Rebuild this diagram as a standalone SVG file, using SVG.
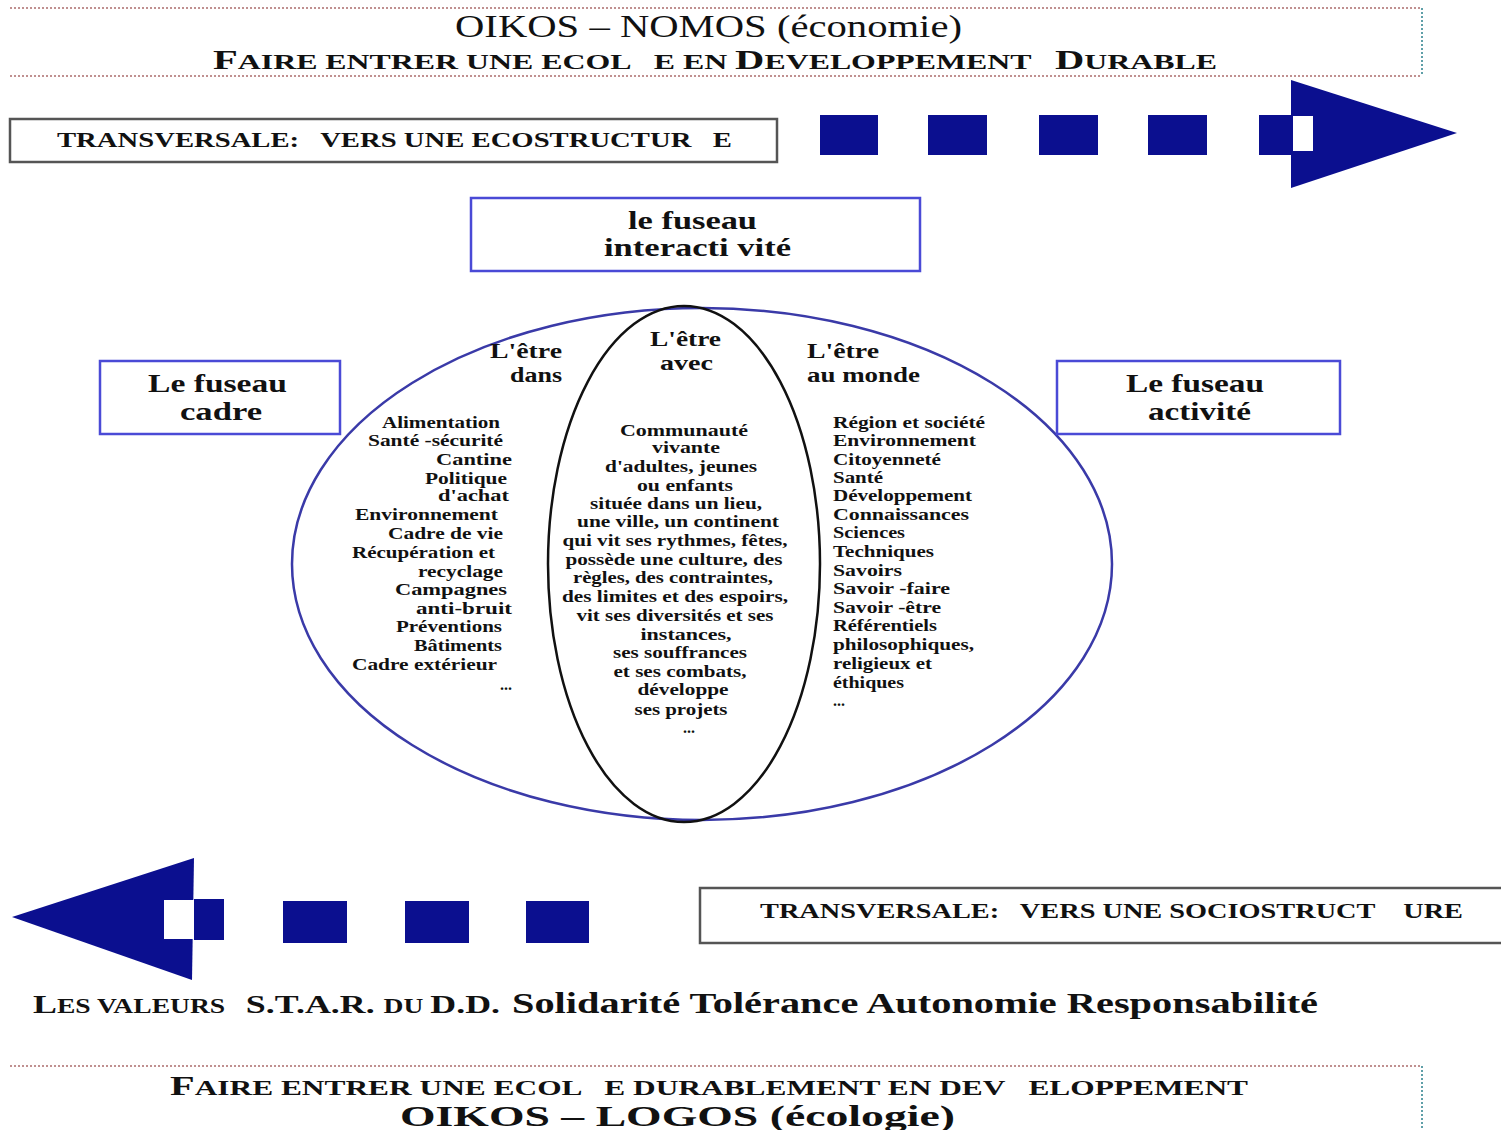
<svg xmlns="http://www.w3.org/2000/svg" width="1501" height="1130" viewBox="0 0 1501 1130">
<style>
text{font-family:"Liberation Serif","Times New Roman",serif;fill:#111}
.b{font-weight:bold}
.pre{white-space:pre}
.col{font-weight:bold;font-size:16px}
.hd{font-weight:bold;font-size:20px}
.fz{font-weight:bold;font-size:25px}
.tr{font-weight:bold;font-size:22px;white-space:pre}
.dot{stroke:#c09090;stroke-width:2;stroke-dasharray:2 2;fill:none}
.dotr{stroke:#5f9fa8;stroke-width:2;stroke-dasharray:2 2;fill:none}
.blue{fill:#0b0f8f}
.fbox{fill:#fff;stroke:#4a4ad6;stroke-width:2.5}
.tbox{fill:#fff;stroke:#555;stroke-width:2.5}
</style>

<rect width="1501" height="1130" fill="#fff"/>

<g id="header-top">
<line class="dot" x1="10" y1="8" x2="1422" y2="8"/>
<line class="dot" x1="10" y1="76" x2="1422" y2="76"/>
<line class="dotr" x1="1422" y1="8" x2="1422" y2="76"/>
<text x="455" y="37" font-size="32" textLength="507" lengthAdjust="spacingAndGlyphs">OIKOS – NOMOS (économie)</text>
<text class="b pre" xml:space="preserve" x="213" y="69" textLength="1004" lengthAdjust="spacingAndGlyphs"><tspan font-size="28">F</tspan><tspan font-size="22">AIRE ENTRER UNE ECOL   E EN </tspan><tspan font-size="28">D</tspan><tspan font-size="22">EVELOPPEMENT   </tspan><tspan font-size="28">D</tspan><tspan font-size="22">URABLE</tspan></text>
</g>

<g id="transversale-eco">
<rect class="tbox" x="10" y="119" width="767" height="43"/>
<text class="tr" xml:space="preserve" x="57" y="147" textLength="675" lengthAdjust="spacingAndGlyphs">TRANSVERSALE:   VERS UNE ECOSTRUCTUR   E</text>
</g>

<g id="arrow-right">
<rect class="blue" x="820" y="115" width="58" height="40"/>
<rect class="blue" x="928" y="115" width="59" height="40"/>
<rect class="blue" x="1039" y="115" width="59" height="40"/>
<rect class="blue" x="1148" y="115" width="59" height="40"/>
<rect class="blue" x="1259" y="115" width="34" height="40"/>
<polygon class="blue" points="1291,80 1457,133 1291,188"/>
<rect x="1293" y="116" width="20" height="35" fill="#fff"/>
</g>

<g id="fuseau-interactivite">
<rect class="fbox" x="471" y="198" width="449" height="73"/>
<text class="fz" x="628" y="229" textLength="129" lengthAdjust="spacingAndGlyphs">le fuseau</text>
<text class="fz" x="604" y="256" textLength="187" lengthAdjust="spacingAndGlyphs">interacti vité</text>
</g>

<g id="ellipses">
<ellipse cx="702" cy="564" rx="410" ry="256" fill="none" stroke="#3a3aa8" stroke-width="2.5"/>
<ellipse cx="684" cy="564" rx="136" ry="258" fill="none" stroke="#111" stroke-width="2.5"/>
</g>

<g id="fuseau-cadre">
<rect class="fbox" x="100" y="361" width="240" height="73"/>
<text class="fz" x="148" y="392" textLength="139" lengthAdjust="spacingAndGlyphs">Le fuseau</text>
<text class="fz" x="180" y="420" textLength="82" lengthAdjust="spacingAndGlyphs">cadre</text>
</g>

<g id="fuseau-activite">
<rect class="fbox" x="1057" y="361" width="283" height="73"/>
<text class="fz" x="1126" y="392" textLength="138" lengthAdjust="spacingAndGlyphs">Le fuseau</text>
<text class="fz" x="1148" y="420" textLength="103" lengthAdjust="spacingAndGlyphs">activité</text>
</g>

<g id="etre-dans">
<text class="hd" x="490" y="358" textLength="72" lengthAdjust="spacingAndGlyphs">L'être</text>
<text class="hd" x="510" y="382" textLength="52" lengthAdjust="spacingAndGlyphs">dans</text>
<text class="col" x="382" y="428" textLength="118" lengthAdjust="spacingAndGlyphs">Alimentation</text>
<text class="col" x="368" y="446" textLength="135" lengthAdjust="spacingAndGlyphs">Santé -sécurité</text>
<text class="col" x="436" y="465" textLength="76" lengthAdjust="spacingAndGlyphs">Cantine</text>
<text class="col" x="425" y="484" textLength="82" lengthAdjust="spacingAndGlyphs">Politique</text>
<text class="col" x="438" y="501" textLength="71" lengthAdjust="spacingAndGlyphs">d'achat</text>
<text class="col" x="355" y="520" textLength="143" lengthAdjust="spacingAndGlyphs">Environnement</text>
<text class="col" x="388" y="539" textLength="115" lengthAdjust="spacingAndGlyphs">Cadre de vie</text>
<text class="col" x="352" y="558" textLength="143" lengthAdjust="spacingAndGlyphs">Récupération et</text>
<text class="col" x="418" y="577" textLength="85" lengthAdjust="spacingAndGlyphs">recyclage</text>
<text class="col" x="395" y="595" textLength="112" lengthAdjust="spacingAndGlyphs">Campagnes</text>
<text class="col" x="416" y="614" textLength="96" lengthAdjust="spacingAndGlyphs">anti-bruit</text>
<text class="col" x="396" y="632" textLength="106" lengthAdjust="spacingAndGlyphs">Préventions</text>
<text class="col" x="414" y="651" textLength="88" lengthAdjust="spacingAndGlyphs">Bâtiments</text>
<text class="col" x="352" y="670" textLength="145" lengthAdjust="spacingAndGlyphs">Cadre extérieur</text>
<text class="col" x="500" y="690">...</text>
</g>

<g id="etre-avec">
<text class="hd" x="650" y="346" textLength="71" lengthAdjust="spacingAndGlyphs">L'être</text>
<text class="hd" x="660" y="370" textLength="53" lengthAdjust="spacingAndGlyphs">avec</text>
<g text-anchor="middle">
<text class="col" x="684" y="436" textLength="128" lengthAdjust="spacingAndGlyphs">Communauté</text>
<text class="col" x="686" y="453" textLength="68" lengthAdjust="spacingAndGlyphs">vivante</text>
<text class="col" x="681" y="472" textLength="152" lengthAdjust="spacingAndGlyphs">d'adultes, jeunes</text>
<text class="col" x="685" y="491" textLength="96" lengthAdjust="spacingAndGlyphs">ou enfants</text>
<text class="col" x="676" y="509" textLength="172" lengthAdjust="spacingAndGlyphs">située dans un lieu,</text>
<text class="col" x="678" y="527" textLength="202" lengthAdjust="spacingAndGlyphs">une ville, un continent</text>
<text class="col" x="675" y="546" textLength="225" lengthAdjust="spacingAndGlyphs">qui vit ses rythmes, fêtes,</text>
<text class="col" x="674" y="565" textLength="217" lengthAdjust="spacingAndGlyphs">possède une culture, des</text>
<text class="col" x="673" y="583" textLength="200" lengthAdjust="spacingAndGlyphs">règles, des contraintes,</text>
<text class="col" x="675" y="602" textLength="226" lengthAdjust="spacingAndGlyphs">des limites et des espoirs,</text>
<text class="col" x="675" y="621" textLength="197" lengthAdjust="spacingAndGlyphs">vit ses diversités et ses</text>
<text class="col" x="686" y="640" textLength="91" lengthAdjust="spacingAndGlyphs">instances,</text>
<text class="col" x="680" y="658" textLength="134" lengthAdjust="spacingAndGlyphs">ses souffrances</text>
<text class="col" x="680" y="677" textLength="133" lengthAdjust="spacingAndGlyphs">et ses combats,</text>
<text class="col" x="683" y="695" textLength="91" lengthAdjust="spacingAndGlyphs">développe</text>
<text class="col" x="681" y="715" textLength="93" lengthAdjust="spacingAndGlyphs">ses projets</text>
<text class="col" x="689" y="733">...</text>
</g>
</g>

<g id="etre-au-monde">
<text class="hd" x="807" y="358" textLength="72" lengthAdjust="spacingAndGlyphs">L'être</text>
<text class="hd" x="807" y="382" textLength="113" lengthAdjust="spacingAndGlyphs">au monde</text>
<text class="col" x="833" y="428" textLength="152" lengthAdjust="spacingAndGlyphs">Région et société</text>
<text class="col" x="833" y="446" textLength="143" lengthAdjust="spacingAndGlyphs">Environnement</text>
<text class="col" x="833" y="465" textLength="108" lengthAdjust="spacingAndGlyphs">Citoyenneté</text>
<text class="col" x="833" y="483" textLength="50" lengthAdjust="spacingAndGlyphs">Santé</text>
<text class="col" x="833" y="501" textLength="139" lengthAdjust="spacingAndGlyphs">Développement</text>
<text class="col" x="833" y="520" textLength="136" lengthAdjust="spacingAndGlyphs">Connaissances</text>
<text class="col" x="833" y="538" textLength="72" lengthAdjust="spacingAndGlyphs">Sciences</text>
<text class="col" x="833" y="557" textLength="101" lengthAdjust="spacingAndGlyphs">Techniques</text>
<text class="col" x="833" y="576" textLength="69" lengthAdjust="spacingAndGlyphs">Savoirs</text>
<text class="col" x="833" y="594" textLength="117" lengthAdjust="spacingAndGlyphs">Savoir -faire</text>
<text class="col" x="833" y="613" textLength="108" lengthAdjust="spacingAndGlyphs">Savoir -être</text>
<text class="col" x="833" y="631" textLength="104" lengthAdjust="spacingAndGlyphs">Référentiels</text>
<text class="col" x="833" y="650" textLength="141" lengthAdjust="spacingAndGlyphs">philosophiques,</text>
<text class="col" x="833" y="669" textLength="99" lengthAdjust="spacingAndGlyphs">religieux et</text>
<text class="col" x="833" y="688" textLength="71" lengthAdjust="spacingAndGlyphs">éthiques</text>
<text class="col" x="833" y="706">...</text>
</g>

<g id="arrow-left">
<polygon class="blue" points="12,917 194,858 192,980"/>
<rect class="blue" x="194" y="899" width="30" height="41"/>
<rect x="164" y="900" width="30" height="39" fill="#fff"/>
<rect class="blue" x="283" y="901" width="64" height="42"/>
<rect class="blue" x="405" y="901" width="64" height="42"/>
<rect class="blue" x="526" y="901" width="63" height="42"/>
</g>

<g id="transversale-socio">
<rect class="tbox" x="700" y="888" width="812" height="55"/>
<text class="tr" xml:space="preserve" x="760" y="918" textLength="703" lengthAdjust="spacingAndGlyphs">TRANSVERSALE:   VERS UNE SOCIOSTRUCT    URE</text>
</g>

<g id="valeurs">
<text class="b pre" xml:space="preserve" x="33" y="1013" textLength="467" lengthAdjust="spacingAndGlyphs"><tspan font-size="26">L</tspan><tspan font-size="20">ES VALEURS   </tspan><tspan font-size="26">S.T.A.R. </tspan><tspan font-size="20">DU </tspan><tspan font-size="26">D.D.</tspan></text>
<text class="b" x="512" y="1013" font-size="30" textLength="806" lengthAdjust="spacingAndGlyphs">Solidarité Tolérance Autonomie Responsabilité</text>
</g>

<g id="header-bottom">
<line class="dot" x1="10" y1="1066" x2="1422" y2="1066"/>
<line class="dotr" x1="1422" y1="1066" x2="1422" y2="1130"/>
<text class="b pre" xml:space="preserve" x="170" y="1095" textLength="1078" lengthAdjust="spacingAndGlyphs"><tspan font-size="27">F</tspan><tspan font-size="21">AIRE ENTRER UNE ECOL   E DURABLEMENT EN DEV   ELOPPEMENT</tspan></text>
<text class="b" x="400" y="1126" font-size="29" textLength="555" lengthAdjust="spacingAndGlyphs">OIKOS – LOGOS (écologie)</text>
</g>
</svg>
